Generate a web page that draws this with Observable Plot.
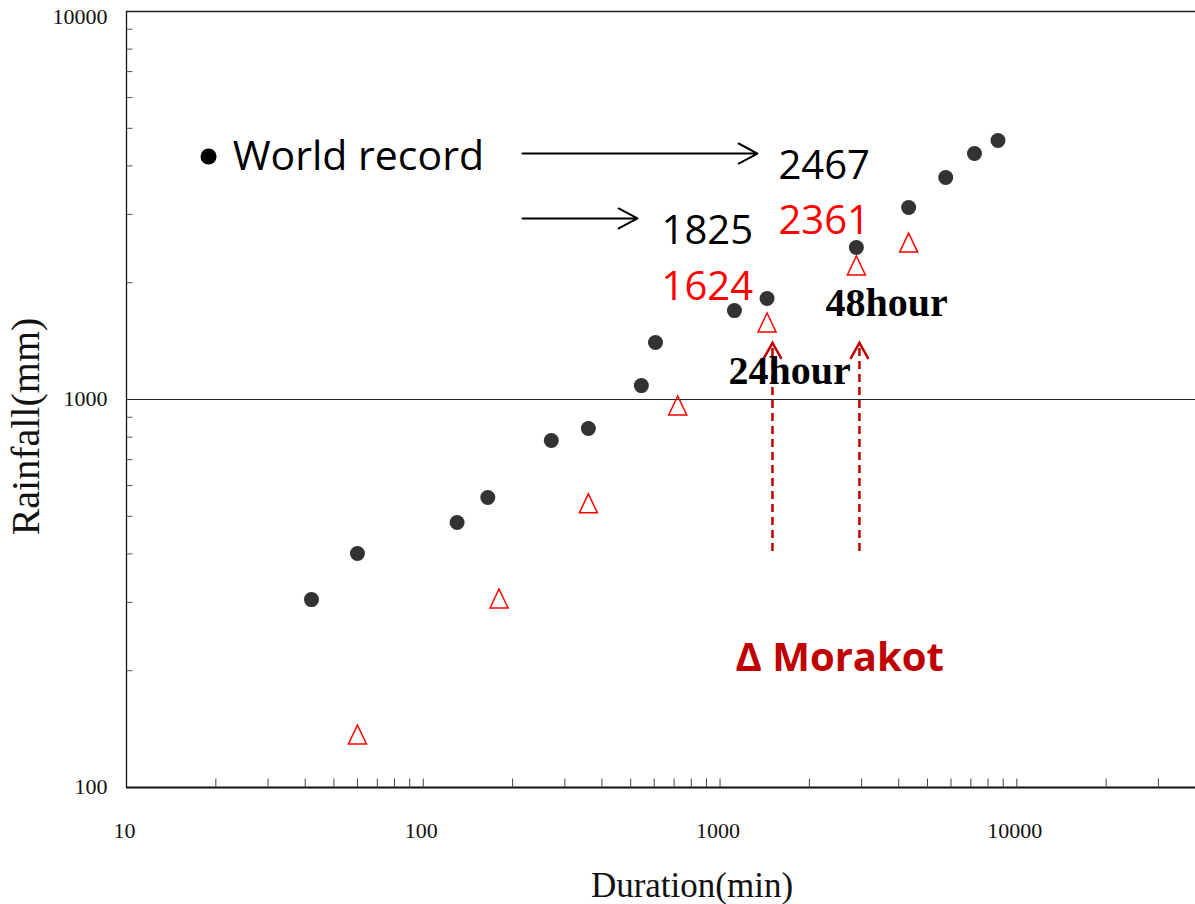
<!DOCTYPE html>
<html><head><meta charset="utf-8">
<script src="https://cdn.jsdelivr.net/npm/d3@7"></script>
<script src="https://cdn.jsdelivr.net/npm/@observablehq/plot@0.6"></script>
<style>body{margin:0;background:#fff}</style>
</head><body><div id="chart"></div>
<script>
// World record rainfall vs duration
const worldDuration = [42, 60, 130, 165, 270, 360, 543, 606, 1118, 1440, 2880, 4320, 5760, 7200, 8640];
const worldRainfall = [305, 401, 482, 559, 784, 842, 1086, 1402, 1695, 1821, 2464, 3124, 3733, 4306, 4650];
// Typhoon Morakot
const morakotDuration = [60, 180, 360, 720, 1440, 2880, 4320];
const morakotRainfall = [137, 307, 540, 965, 1579, 2215, 2538];

// axis ticks
const xTickLabels = [10, 100, 1000, 10000];
const yTickLabels = [100, 1000, 10000];
const xTicks = [20,30,40,50,60,70,80,90,100,200,300,400,500,600,700,800,900,1000,2000,3000,4000,5000,6000,7000,8000,9000,10000,20000,30000];
const yTicks = [200,300,400,500,600,700,800,900,2000,3000,4000,5000,6000,7000,8000,9000];

// annotations (data coordinates)
const noteText = ["2467", "2361", "1825", "1624"];
const noteX = [1573, 1573, 635, 635];
const noteY = [4005, 2889, 2723, 1942];
const noteColor = ["#000000", "#ff0000", "#000000", "#ff0000"];
const hourText = ["24hour", "48hour"];
const hourTextX = [1067, 2265];
const hourTextY = [1182, 1770];
const hourArrowX = [1502, 2949];
const arrowX1 = [216, 216];
const arrowX2 = [1337, 527];
const arrowY = [4305, 2928];

const world = worldDuration.map((d, i) => ({duration: d, rainfall: worldRainfall[i]}));
const morakot = morakotDuration.map((d, i) => ({duration: d, rainfall: morakotRainfall[i]}));
const notes = noteText.map((t, i) => ({text: t, x: noteX[i], y: noteY[i], color: noteColor[i]}));
const hours = hourText.map((t, i) => ({text: t, x: hourTextX[i], y: hourTextY[i]}));
const arrows = arrowX1.map((x1, i) => ({x1, x2: arrowX2[i], y: arrowY[i]}));

const tickUp = {draw(c) { c.moveTo(0, 0); c.lineTo(0, -9); }};
const tickRight = {draw(c) { c.moveTo(0, 0); c.lineTo(6, 0); }};
const triangle = {draw(c) { c.moveTo(0, -9.5); c.lineTo(9, 9.5); c.lineTo(-9, 9.5); c.closePath(); }};
const chevron = {draw(c) { c.moveTo(-9, 16); c.lineTo(0, 0); c.lineTo(9, 16); }};

const serif = "Liberation Serif, Times New Roman, serif";
const sans = "Open Sans, Noto Sans, sans-serif";

const chart = Plot.plot({
  width: 1195,
  height: 904,
  marginTop: 11,
  marginRight: 0,
  marginBottom: 117,
  marginLeft: 126,
  style: {background: "white"},
  x: {type: "log", domain: [10, 40000], axis: null},
  y: {type: "log", domain: [100, 10000], axis: null},
  marks: [
    // frame lines
    Plot.ruleY([1000], {stroke: "#222", strokeWidth: 1}),
    Plot.ruleY([10000], {stroke: "#222", strokeWidth: 1.5}),
    Plot.ruleX([10], {stroke: "#111", strokeWidth: 1.3}),
    Plot.ruleY([100], {stroke: "#111", strokeWidth: 2}),
    // minor ticks
    Plot.dot(xTicks, {x: d => d, y: () => 100, symbol: tickUp, fill: "none", stroke: "#444", strokeWidth: 1}),
    Plot.dot(yTicks, {x: () => 10, y: d => d, symbol: tickRight, fill: "none", stroke: "#555", strokeWidth: 1}),
    // tick labels
    Plot.text(xTickLabels, {x: d => d, y: () => 100, text: d => String(d), dy: 43, dx: -2, fontFamily: serif, fontSize: 22, fill: "#111"}),
    Plot.text(yTickLabels.filter(d => d < 10000), {x: () => 10, y: d => d, text: d => String(d), textAnchor: "end", dx: -19, dy: -1, fontFamily: serif, fontSize: 22, fill: "#111"}),
    Plot.text(yTickLabels.filter(d => d >= 10000), {x: () => 10, y: d => d, text: d => String(d), textAnchor: "end", dx: -19, dy: 5, fontFamily: serif, fontSize: 22, fill: "#111"}),
    // axis titles
    Plot.text(["Duration(min)"], {frameAnchor: "bottom", textAnchor: "middle", lineAnchor: "middle", dx: 31, dy: 98, fontFamily: serif, fontSize: 35, fill: "#111"}),
    Plot.text(["Rainfall(mm)"], {frameAnchor: "left", textAnchor: "middle", lineAnchor: "middle", rotate: -90, dx: -100, dy: 27, fontFamily: serif, fontSize: 40, fill: "#111"}),
    // data
    Plot.dot(world, {x: "duration", y: "rainfall", r: 7.5, fill: "#333", stroke: "none"}),
    Plot.dot(morakot, {x: "duration", y: "rainfall", symbol: triangle, fill: "none", stroke: "#ff0000", strokeWidth: 1.5}),
    // legend-like annotations
    Plot.dot([{x: 18.9, y: 4230}], {x: "x", y: "y", r: 8, fill: "#000", stroke: "none"}),
    Plot.text([{x: 22.8, y: 4230}], {x: "x", y: "y", text: () => "World record", textAnchor: "start", fontFamily: sans, fontSize: 41, fill: "#000"}),
    Plot.arrow(arrows, {x1: "x1", x2: "x2", y1: "y", y2: "y", stroke: "#000", strokeWidth: 2, headLength: 16, headAngle: 56}),
    Plot.text(notes, {x: "x", y: "y", text: "text", fill: "color", textAnchor: "start", fontFamily: sans, fontSize: 40}),
    Plot.ruleX(hourArrowX, {x: d => d, y1: () => 406, y2: () => 1394, stroke: "#c00000", strokeWidth: 2.5, strokeDasharray: "8,5"}),
    Plot.dot(hourArrowX, {x: d => d, y: () => 1400, symbol: chevron, fill: "none", stroke: "#c00000", strokeWidth: 2.5}),
    Plot.text(hours, {x: "x", y: "y", text: "text", textAnchor: "start", fontFamily: serif, fontWeight: "bold", fontSize: 40, fill: "#000"}),
    Plot.text([{x: 1127, y: 216}], {x: "x", y: "y", text: () => "\u0394 Morakot", textAnchor: "start", fontFamily: sans, fontWeight: "bold", fontSize: 40, fill: "#c00000"})
  ]
});
document.getElementById("chart").appendChild(chart);
</script>
</body></html>
